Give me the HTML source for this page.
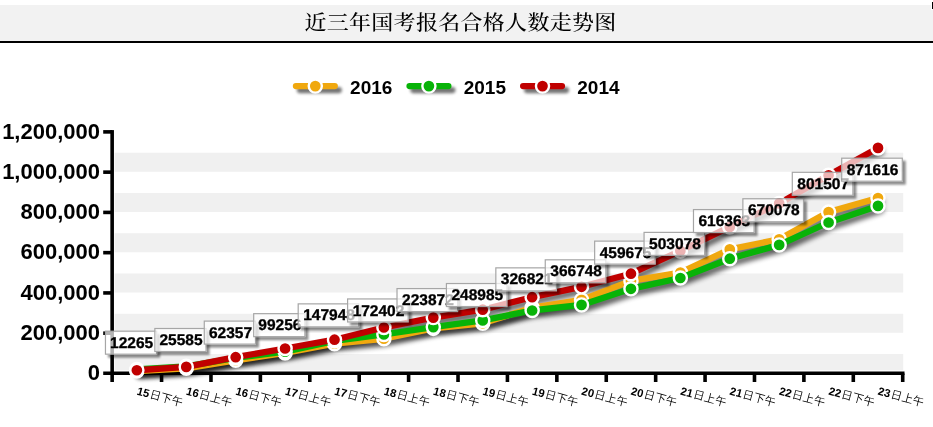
<!DOCTYPE html>
<html lang="zh-CN"><head><meta charset="utf-8"><title>近三年国考报名合格人数走势图</title>
<style>
html,body{margin:0;padding:0;background:#fff;}
body{width:933px;height:427px;position:relative;overflow:hidden;font-family:"Liberation Sans","Noto Sans CJK SC",sans-serif;}
#tbar{position:absolute;left:0;top:5px;width:933px;height:36px;background:#f2f2f2;border-bottom:2px solid #000;}
#ttl{position:absolute;left:0;top:5.6px;width:920.7px;height:36px;line-height:34px;text-align:center;white-space:nowrap;
 font-family:"Liberation Serif","Noto Serif CJK SC",serif;font-size:22px;font-weight:500;letter-spacing:0.3px;color:#000;text-indent:0.3px;transform:scaleY(0.93);transform-origin:50% 50%;}
#mk{position:absolute;left:931px;top:1px;width:2px;height:9px;background:#fff;}
#mk i{position:absolute;left:1px;top:1px;width:1px;height:7px;background:#000;display:block;}
svg{position:absolute;left:0;top:0;}
svg text{font-family:"Liberation Sans","Noto Sans CJK SC",sans-serif;font-weight:bold;fill:#000;}
.yl{font-size:22px;text-anchor:end;}
.lg{font-size:19px;}
.vl{font-size:15.5px;text-anchor:middle;text-rendering:geometricPrecision;stroke:#000;stroke-width:0.35px;}
.xl{font-size:11.3px;}
.xl tspan{font-weight:350;}
</style></head><body>
<div id="tbar"></div><div id="ttl">近三年国考报名合格人数走势图</div><div id="mk"><i></i></div>
<svg width="933" height="427" viewBox="0 0 933 427">
<defs>
<filter id="sh" filterUnits="userSpaceOnUse" x="0" y="0" width="933" height="427"><feGaussianBlur in="SourceAlpha" stdDeviation="2.8"/><feOffset dx="3" dy="4.2"/><feComponentTransfer><feFuncA type="linear" slope="0.64"/></feComponentTransfer></filter>
<filter id="shl" filterUnits="userSpaceOnUse" x="0" y="0" width="933" height="427"><feGaussianBlur in="SourceAlpha" stdDeviation="1.7"/><feOffset dx="3.6" dy="3.9"/><feComponentTransfer><feFuncA type="linear" slope="0.55"/></feComponentTransfer></filter>
<filter id="bs" filterUnits="userSpaceOnUse" x="0" y="0" width="933" height="427"><feGaussianBlur in="SourceAlpha" stdDeviation="0.9"/><feOffset dx="2.5" dy="2.5"/><feComponentTransfer result="s"><feFuncA type="linear" slope="0.45"/></feComponentTransfer><feComposite in="s" in2="SourceAlpha" operator="out"/></filter>
</defs>

<g fill="#f0f0f0">
<rect x="114.6" y="354.02" width="788.6" height="16.28"/>
<rect x="114.6" y="313.76" width="788.6" height="19.03"/>
<rect x="114.6" y="273.5" width="788.6" height="19.03"/>
<rect x="114.6" y="233.24" width="788.6" height="19.03"/>
<rect x="114.6" y="192.98" width="788.6" height="19.03"/>
<rect x="114.6" y="152.72" width="788.6" height="19.03"/>
</g>
<g stroke="#000" stroke-width="3.6" fill="none">
<path d="M112.15 130.1V382"/>
<path d="M103.2 373.3H904.51"/>
<path d="M103.2 333.19H112.15"/>
<path d="M103.2 292.93H112.15"/>
<path d="M103.2 252.67H112.15"/>
<path d="M103.2 212.41H112.15"/>
<path d="M103.2 172.15H112.15"/>
<path d="M103.2 131.89H112.15"/>
<path d="M161.56 373.45V382"/>
<path d="M210.97 373.45V382"/>
<path d="M260.38 373.45V382"/>
<path d="M309.79 373.45V382"/>
<path d="M359.2 373.45V382"/>
<path d="M408.61 373.45V382"/>
<path d="M458.02 373.45V382"/>
<path d="M507.43 373.45V382"/>
<path d="M556.84 373.45V382"/>
<path d="M606.25 373.45V382"/>
<path d="M655.66 373.45V382"/>
<path d="M705.07 373.45V382"/>
<path d="M754.48 373.45V382"/>
<path d="M803.89 373.45V382"/>
<path d="M853.3 373.45V382"/>
<path d="M902.71 373.45V382"/>
</g>
<text class="yl" x="100" y="380.25">0</text>
<text class="yl" x="100" y="339.99">200,000</text>
<text class="yl" x="100" y="299.73">400,000</text>
<text class="yl" x="100" y="259.47">600,000</text>
<text class="yl" x="100" y="219.21">800,000</text>
<text class="yl" x="100" y="178.95">1,000,000</text>
<text class="yl" x="100" y="138.69">1,200,000</text>
<text class="xl" transform="translate(136.16 394.4) rotate(15)">15<tspan dx="0.6">日下午</tspan></text>
<text class="xl" transform="translate(185.56 394.4) rotate(15)">16<tspan dx="0.6">日上午</tspan></text>
<text class="xl" transform="translate(234.98 394.4) rotate(15)">16<tspan dx="0.6">日下午</tspan></text>
<text class="xl" transform="translate(284.38 394.4) rotate(15)">17<tspan dx="0.6">日上午</tspan></text>
<text class="xl" transform="translate(333.79 394.4) rotate(15)">17<tspan dx="0.6">日下午</tspan></text>
<text class="xl" transform="translate(383.2 394.4) rotate(15)">18<tspan dx="0.6">日上午</tspan></text>
<text class="xl" transform="translate(432.61 394.4) rotate(15)">18<tspan dx="0.6">日下午</tspan></text>
<text class="xl" transform="translate(482.02 394.4) rotate(15)">19<tspan dx="0.6">日上午</tspan></text>
<text class="xl" transform="translate(531.43 394.4) rotate(15)">19<tspan dx="0.6">日下午</tspan></text>
<text class="xl" transform="translate(580.84 394.4) rotate(15)">20<tspan dx="0.6">日上午</tspan></text>
<text class="xl" transform="translate(630.25 394.4) rotate(15)">20<tspan dx="0.6">日下午</tspan></text>
<text class="xl" transform="translate(679.66 394.4) rotate(15)">21<tspan dx="0.6">日上午</tspan></text>
<text class="xl" transform="translate(729.07 394.4) rotate(15)">21<tspan dx="0.6">日下午</tspan></text>
<text class="xl" transform="translate(778.48 394.4) rotate(15)">22<tspan dx="0.6">日上午</tspan></text>
<text class="xl" transform="translate(827.89 394.4) rotate(15)">22<tspan dx="0.6">日下午</tspan></text>
<text class="xl" transform="translate(877.3 394.4) rotate(15)">23<tspan dx="0.6">日上午</tspan></text>
<g filter="url(#shl)"><path d="M295.95 86.1H334.75" stroke="#F0A80E" stroke-width="6.3" stroke-linecap="round"/></g><path d="M295.95 86.1H334.75" stroke="#F0A80E" stroke-width="6.3" stroke-linecap="round"/><circle cx="315.3" cy="86.1" r="6.55" fill="#F0A80E" stroke="#fff" stroke-width="2.4"/><text class="lg" x="350.1" y="93.6">2016</text>
<g filter="url(#shl)"><path d="M409.55 86.1H448.35" stroke="#08B308" stroke-width="6.3" stroke-linecap="round"/></g><path d="M409.55 86.1H448.35" stroke="#08B308" stroke-width="6.3" stroke-linecap="round"/><circle cx="428.9" cy="86.1" r="6.55" fill="#08B308" stroke="#fff" stroke-width="2.4"/><text class="lg" x="463.7" y="93.6">2015</text>
<g filter="url(#shl)"><path d="M523.15 86.1H561.95" stroke="#C00000" stroke-width="6.3" stroke-linecap="round"/></g><path d="M523.15 86.1H561.95" stroke="#C00000" stroke-width="6.3" stroke-linecap="round"/><circle cx="542.5" cy="86.1" r="6.55" fill="#C00000" stroke="#fff" stroke-width="2.4"/><text class="lg" x="577.3" y="93.6">2014</text>
<g filter="url(#sh)"><path d="M136.86 370.98 L186.26 368.3 L235.68 360.3 L285.09 352.9 L334.5 343.67 L383.9 338.75 L433.31 328.38 L482.73 323.33 L532.13 307.66 L581.54 299.9 L630.95 280.92 L680.36 272.6 L729.77 249.38 L779.18 239.3 L828.59 212.11 L878 197.99" fill="none" stroke="#F0A80E" stroke-width="6.3" stroke-linejoin="round" stroke-linecap="round"/></g>
<g filter="url(#sh)"><path d="M136.86 369.4 L186.26 366.3 L235.68 358 L285.09 351.6 L334.5 341 L383.9 334.5 L433.31 327.1 L482.73 320.4 L532.13 310.5 L581.54 304.9 L630.95 288.8 L680.36 278 L729.77 258.7 L779.18 244.9 L828.59 222.5 L878 205.9" fill="none" stroke="#08B308" stroke-width="6.3" stroke-linejoin="round" stroke-linecap="round"/></g>
<g filter="url(#sh)"><path d="M136.86 370.25 L186.26 366.9 L235.68 357.2 L285.09 348.5 L334.5 339.7 L383.9 327.5 L433.31 317.6 L482.73 309.7 L532.13 297.2 L581.54 286.8 L630.95 273.7 L680.36 250.9 L729.77 226.9 L779.18 203.4 L828.59 175.3 L878 147.9" fill="none" stroke="#C00000" stroke-width="6.3" stroke-linejoin="round" stroke-linecap="round"/></g>
<g><path d="M136.86 370.98 L186.26 368.3 L235.68 360.3 L285.09 352.9 L334.5 343.67 L383.9 338.75 L433.31 328.38 L482.73 323.33 L532.13 307.66 L581.54 299.9 L630.95 280.92 L680.36 272.6 L729.77 249.38 L779.18 239.3 L828.59 212.11 L878 197.99" fill="none" stroke="#F0A80E" stroke-width="6.3" stroke-linejoin="round" stroke-linecap="round"/><circle cx="136.86" cy="370.98" r="6.55" fill="#F0A80E" stroke="#fff" stroke-width="2.4"/><circle cx="186.26" cy="368.3" r="6.55" fill="#F0A80E" stroke="#fff" stroke-width="2.4"/><circle cx="235.68" cy="360.3" r="6.55" fill="#F0A80E" stroke="#fff" stroke-width="2.4"/><circle cx="285.09" cy="352.9" r="6.55" fill="#F0A80E" stroke="#fff" stroke-width="2.4"/><circle cx="334.5" cy="343.67" r="6.55" fill="#F0A80E" stroke="#fff" stroke-width="2.4"/><circle cx="383.9" cy="338.75" r="6.55" fill="#F0A80E" stroke="#fff" stroke-width="2.4"/><circle cx="433.31" cy="328.38" r="6.55" fill="#F0A80E" stroke="#fff" stroke-width="2.4"/><circle cx="482.73" cy="323.33" r="6.55" fill="#F0A80E" stroke="#fff" stroke-width="2.4"/><circle cx="532.13" cy="307.66" r="6.55" fill="#F0A80E" stroke="#fff" stroke-width="2.4"/><circle cx="581.54" cy="299.9" r="6.55" fill="#F0A80E" stroke="#fff" stroke-width="2.4"/><circle cx="630.95" cy="280.92" r="6.55" fill="#F0A80E" stroke="#fff" stroke-width="2.4"/><circle cx="680.36" cy="272.6" r="6.55" fill="#F0A80E" stroke="#fff" stroke-width="2.4"/><circle cx="729.77" cy="249.38" r="6.55" fill="#F0A80E" stroke="#fff" stroke-width="2.4"/><circle cx="779.18" cy="239.3" r="6.55" fill="#F0A80E" stroke="#fff" stroke-width="2.4"/><circle cx="828.59" cy="212.11" r="6.55" fill="#F0A80E" stroke="#fff" stroke-width="2.4"/><circle cx="878" cy="197.99" r="6.55" fill="#F0A80E" stroke="#fff" stroke-width="2.4"/></g>
<g><path d="M136.86 369.4 L186.26 366.3 L235.68 358 L285.09 351.6 L334.5 341 L383.9 334.5 L433.31 327.1 L482.73 320.4 L532.13 310.5 L581.54 304.9 L630.95 288.8 L680.36 278 L729.77 258.7 L779.18 244.9 L828.59 222.5 L878 205.9" fill="none" stroke="#08B308" stroke-width="6.3" stroke-linejoin="round" stroke-linecap="round"/><circle cx="136.86" cy="369.4" r="6.55" fill="#08B308" stroke="#fff" stroke-width="2.4"/><circle cx="186.26" cy="366.3" r="6.55" fill="#08B308" stroke="#fff" stroke-width="2.4"/><circle cx="235.68" cy="358" r="6.55" fill="#08B308" stroke="#fff" stroke-width="2.4"/><circle cx="285.09" cy="351.6" r="6.55" fill="#08B308" stroke="#fff" stroke-width="2.4"/><circle cx="334.5" cy="341" r="6.55" fill="#08B308" stroke="#fff" stroke-width="2.4"/><circle cx="383.9" cy="334.5" r="6.55" fill="#08B308" stroke="#fff" stroke-width="2.4"/><circle cx="433.31" cy="327.1" r="6.55" fill="#08B308" stroke="#fff" stroke-width="2.4"/><circle cx="482.73" cy="320.4" r="6.55" fill="#08B308" stroke="#fff" stroke-width="2.4"/><circle cx="532.13" cy="310.5" r="6.55" fill="#08B308" stroke="#fff" stroke-width="2.4"/><circle cx="581.54" cy="304.9" r="6.55" fill="#08B308" stroke="#fff" stroke-width="2.4"/><circle cx="630.95" cy="288.8" r="6.55" fill="#08B308" stroke="#fff" stroke-width="2.4"/><circle cx="680.36" cy="278" r="6.55" fill="#08B308" stroke="#fff" stroke-width="2.4"/><circle cx="729.77" cy="258.7" r="6.55" fill="#08B308" stroke="#fff" stroke-width="2.4"/><circle cx="779.18" cy="244.9" r="6.55" fill="#08B308" stroke="#fff" stroke-width="2.4"/><circle cx="828.59" cy="222.5" r="6.55" fill="#08B308" stroke="#fff" stroke-width="2.4"/><circle cx="878" cy="205.9" r="6.55" fill="#08B308" stroke="#fff" stroke-width="2.4"/></g>
<g><path d="M136.86 370.25 L186.26 366.9 L235.68 357.2 L285.09 348.5 L334.5 339.7 L383.9 327.5 L433.31 317.6 L482.73 309.7 L532.13 297.2 L581.54 286.8 L630.95 273.7 L680.36 250.9 L729.77 226.9 L779.18 203.4 L828.59 175.3 L878 147.9" fill="none" stroke="#C00000" stroke-width="6.3" stroke-linejoin="round" stroke-linecap="round"/><circle cx="136.86" cy="370.25" r="6.55" fill="#C00000" stroke="#fff" stroke-width="2.4"/><circle cx="186.26" cy="366.9" r="6.55" fill="#C00000" stroke="#fff" stroke-width="2.4"/><circle cx="235.68" cy="357.2" r="6.55" fill="#C00000" stroke="#fff" stroke-width="2.4"/><circle cx="285.09" cy="348.5" r="6.55" fill="#C00000" stroke="#fff" stroke-width="2.4"/><circle cx="334.5" cy="339.7" r="6.55" fill="#C00000" stroke="#fff" stroke-width="2.4"/><circle cx="383.9" cy="327.5" r="6.55" fill="#C00000" stroke="#fff" stroke-width="2.4"/><circle cx="433.31" cy="317.6" r="6.55" fill="#C00000" stroke="#fff" stroke-width="2.4"/><circle cx="482.73" cy="309.7" r="6.55" fill="#C00000" stroke="#fff" stroke-width="2.4"/><circle cx="532.13" cy="297.2" r="6.55" fill="#C00000" stroke="#fff" stroke-width="2.4"/><circle cx="581.54" cy="286.8" r="6.55" fill="#C00000" stroke="#fff" stroke-width="2.4"/><circle cx="630.95" cy="273.7" r="6.55" fill="#C00000" stroke="#fff" stroke-width="2.4"/><circle cx="680.36" cy="250.9" r="6.55" fill="#C00000" stroke="#fff" stroke-width="2.4"/><circle cx="729.77" cy="226.9" r="6.55" fill="#C00000" stroke="#fff" stroke-width="2.4"/><circle cx="779.18" cy="203.4" r="6.55" fill="#C00000" stroke="#fff" stroke-width="2.4"/><circle cx="828.59" cy="175.3" r="6.55" fill="#C00000" stroke="#fff" stroke-width="2.4"/><circle cx="878" cy="147.9" r="6.55" fill="#C00000" stroke="#fff" stroke-width="2.4"/></g>
<rect x="104.96" y="330.68" width="52.2" height="24" filter="url(#bs)"/>
<rect x="105.46" y="331.18" width="51.2" height="23" fill="#fff" fill-opacity="0.7" stroke="#a6a6a6" stroke-width="1.2"/>
<text class="vl" x="131.66" y="347.78">12265</text>
<rect x="154.36" y="328" width="52.2" height="24" filter="url(#bs)"/>
<rect x="154.86" y="328.5" width="51.2" height="23" fill="#fff" fill-opacity="0.7" stroke="#a6a6a6" stroke-width="1.2"/>
<text class="vl" x="181.06" y="345.1">25585</text>
<rect x="203.78" y="320.6" width="52.2" height="24" filter="url(#bs)"/>
<rect x="204.28" y="321.1" width="51.2" height="23" fill="#fff" fill-opacity="0.7" stroke="#a6a6a6" stroke-width="1.2"/>
<text class="vl" x="230.47" y="337.7">62357</text>
<rect x="253.19" y="313.17" width="52.2" height="24" filter="url(#bs)"/>
<rect x="253.69" y="313.67" width="51.2" height="23" fill="#fff" fill-opacity="0.7" stroke="#a6a6a6" stroke-width="1.2"/>
<text class="vl" x="279.89" y="330.27">99256</text>
<rect x="297.69" y="303.37" width="61.6" height="24" filter="url(#bs)"/>
<rect x="298.19" y="303.87" width="60.6" height="23" fill="#fff" fill-opacity="0.7" stroke="#a6a6a6" stroke-width="1.2"/>
<text class="vl" x="329.1" y="320.47">147948</text>
<rect x="347.1" y="298.45" width="61.6" height="24" filter="url(#bs)"/>
<rect x="347.6" y="298.95" width="60.6" height="23" fill="#fff" fill-opacity="0.7" stroke="#a6a6a6" stroke-width="1.2"/>
<text class="vl" x="378.5" y="315.55">172402</text>
<rect x="396.51" y="288.08" width="61.6" height="24" filter="url(#bs)"/>
<rect x="397.01" y="288.58" width="60.6" height="23" fill="#fff" fill-opacity="0.7" stroke="#a6a6a6" stroke-width="1.2"/>
<text class="vl" x="427.91" y="305.18">223872</text>
<rect x="445.93" y="283.03" width="61.6" height="24" filter="url(#bs)"/>
<rect x="446.43" y="283.53" width="60.6" height="23" fill="#fff" fill-opacity="0.7" stroke="#a6a6a6" stroke-width="1.2"/>
<text class="vl" x="477.33" y="300.13">248985</text>
<rect x="495.33" y="267.36" width="61.6" height="24" filter="url(#bs)"/>
<rect x="495.83" y="267.86" width="60.6" height="23" fill="#fff" fill-opacity="0.7" stroke="#a6a6a6" stroke-width="1.2"/>
<text class="vl" x="526.74" y="284.46">326821</text>
<rect x="544.75" y="259.32" width="61.6" height="24" filter="url(#bs)"/>
<rect x="545.25" y="259.82" width="60.6" height="23" fill="#fff" fill-opacity="0.7" stroke="#a6a6a6" stroke-width="1.2"/>
<text class="vl" x="576.14" y="276.42">366748</text>
<rect x="594.15" y="240.62" width="61.6" height="24" filter="url(#bs)"/>
<rect x="594.65" y="241.12" width="60.6" height="23" fill="#fff" fill-opacity="0.7" stroke="#a6a6a6" stroke-width="1.2"/>
<text class="vl" x="625.55" y="257.72">459675</text>
<rect x="643.56" y="231.88" width="61.6" height="24" filter="url(#bs)"/>
<rect x="644.06" y="232.38" width="60.6" height="23" fill="#fff" fill-opacity="0.7" stroke="#a6a6a6" stroke-width="1.2"/>
<text class="vl" x="674.96" y="248.98">503078</text>
<rect x="692.98" y="209.08" width="61.6" height="24" filter="url(#bs)"/>
<rect x="693.48" y="209.58" width="60.6" height="23" fill="#fff" fill-opacity="0.7" stroke="#a6a6a6" stroke-width="1.2"/>
<text class="vl" x="724.38" y="226.18">616363</text>
<rect x="742.38" y="198.26" width="61.6" height="24" filter="url(#bs)"/>
<rect x="742.88" y="198.76" width="60.6" height="23" fill="#fff" fill-opacity="0.7" stroke="#a6a6a6" stroke-width="1.2"/>
<text class="vl" x="773.78" y="215.36">670078</text>
<rect x="791.79" y="171.81" width="61.6" height="24" filter="url(#bs)"/>
<rect x="792.29" y="172.31" width="60.6" height="23" fill="#fff" fill-opacity="0.7" stroke="#a6a6a6" stroke-width="1.2"/>
<text class="vl" x="823.19" y="188.91">801507</text>
<rect x="841.2" y="157.69" width="61.6" height="24" filter="url(#bs)"/>
<rect x="841.7" y="158.19" width="60.6" height="23" fill="#fff" fill-opacity="0.7" stroke="#a6a6a6" stroke-width="1.2"/>
<text class="vl" x="872.6" y="174.79">871616</text>
</svg></body></html>
